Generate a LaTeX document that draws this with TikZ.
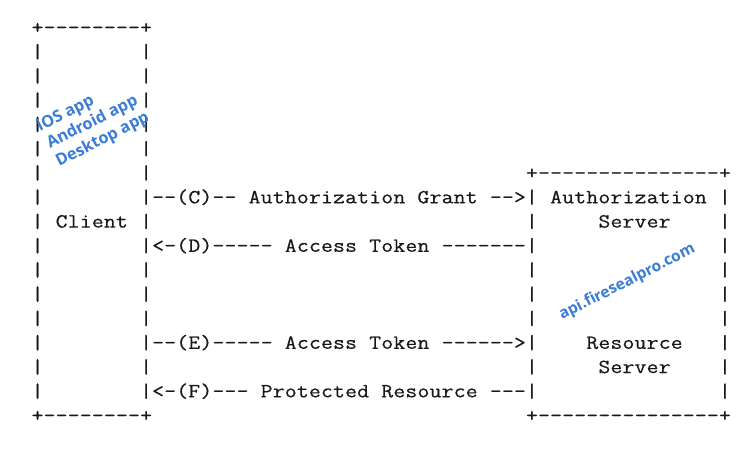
\documentclass[tikz,border=0pt]{standalone}
\usepackage{fontspec}
% typewriter face widened to a 0.6em cell, like Courier
\setmonofont{Latin Modern Mono}[FakeStretch=1.143,FakeBold=0.5]
\newfontfamily\notefont{Open Sans}
\definecolor{inkgray}{RGB}{25,25,25}
\definecolor{noteblue}{RGB}{58,124,214}
% one character cell of the ASCII grid
\newdimen\cellw \cellw=12.06pt
% set a run of characters, one per grid cell (write spaces as ~)
\ExplSyntaxOn
\NewDocumentCommand\cells{m}{\tl_map_inline:nn {#1} {\hbox_to_wd:nn {\cellw} {\hss ##1 \hss}}}
\ExplSyntaxOff
% grid: column c starts at 31.5 + 12.06c, row r has its baseline at 203.3 + 24.25(r-7)
\newcommand\colx[1]{31.5+12.06*#1}
\newcommand\rowy[1]{203.3+24.25*(#1-7)}
\begin{document}
\begin{tikzpicture}[x=1pt,y=-1pt,
  ascii/.style={anchor=base west,inner sep=0pt,outer sep=0pt,text=inkgray,
    font=\ttfamily\fontsize{20.1pt}{24pt}\selectfont},
  note/.style={anchor=base west,inner sep=0pt,text=noteblue,rotate=27,
    font=\notefont\bfseries\fontsize{16.3pt}{19pt}\selectfont}]
\useasboundingbox (0,0) rectangle (746,448);

% client box
\node[ascii] (clienttop) at ({\colx{0}},{\rowy{0}})  {\cells{+--------+}};
\node[ascii] (clientbot) at ({\colx{0}},{\rowy{16}}) {\cells{+--------+}};
\foreach \r in {1,...,15}{
  \node[ascii] (cl\r) at ({\colx{0}},{\rowy{\r}}) {\cells{|}};
  \node[ascii] (cr\r) at ({\colx{9}},{\rowy{\r}}) {\cells{|}};
}
\node[ascii] (client) at ({\colx{2}},{\rowy{8}}) {\cells{Client}};

% server box
\node[ascii] (servertop) at ({\colx{41}},{\rowy{6}})  {\cells{+---------------+}};
\node[ascii] (serverbot) at ({\colx{41}},{\rowy{16}}) {\cells{+---------------+}};
\foreach \r in {7,...,15}{
  \node[ascii] (sl\r) at ({\colx{41}},{\rowy{\r}}) {\cells{|}};
  \node[ascii] (sr\r) at ({\colx{57}},{\rowy{\r}}) {\cells{|}};
}
\node[ascii] (authz)  at ({\colx{43}},{\rowy{7}})  {\cells{Authorization}};
\node[ascii] (authzb) at ({\colx{47}},{\rowy{8}})  {\cells{Server}};
\node[ascii] (res)    at ({\colx{46}},{\rowy{13}}) {\cells{Resource}};
\node[ascii] (resb)   at ({\colx{47}},{\rowy{14}}) {\cells{Server}};

% message flows between the boxes
\node[ascii] (msgC) at ({\colx{10}},{\rowy{7}})  {\cells{--(C)--~Authorization~Grant~-->}};
\node[ascii] (msgD) at ({\colx{10}},{\rowy{9}})  {\cells{<-(D)-----~Access~Token~-------}};
\node[ascii] (msgE) at ({\colx{10}},{\rowy{13}}) {\cells{--(E)-----~Access~Token~------>}};
\node[ascii] (msgF) at ({\colx{10}},{\rowy{15}}) {\cells{<-(F)---~Protected~Resource~---}};

% client platforms and server host
\node[note] (ios)     at (40,132) {iOS app};
\node[note] (android) at (50,149) {Android app};
\node[note] (desktop) at (59,167) {Desktop app};
\node[note,font=\notefont\bfseries\fontsize{15.6pt}{18pt}\selectfont] (host) at (562,320) {api.firesealpro.com};
\end{tikzpicture}
\end{document}
